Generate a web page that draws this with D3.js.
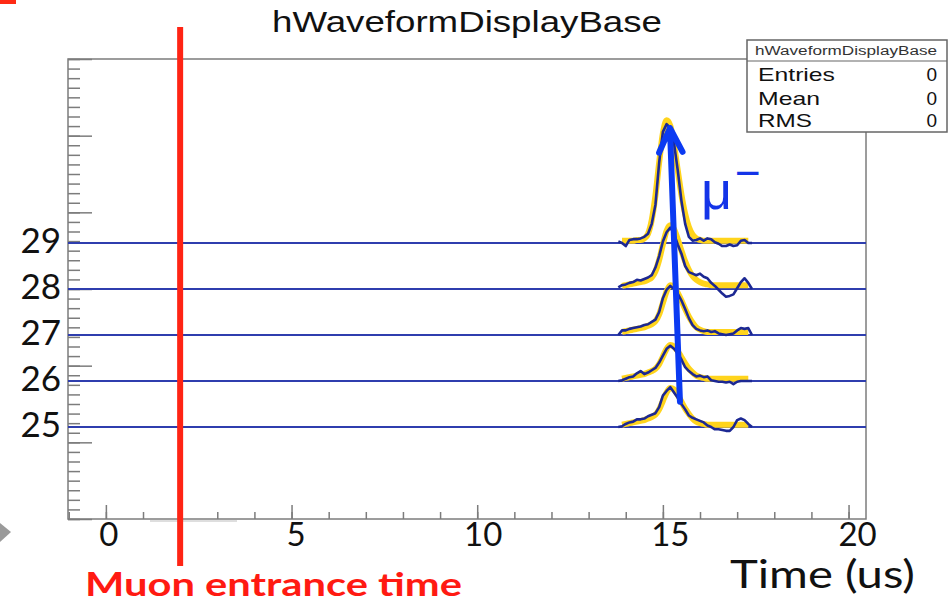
<!DOCTYPE html>
<html lang="en">
<head>
	<meta charset="UTF-8"/>
	<title>hWaveformDisplayBase</title>
	<style>
	body { margin: 0; background: white; }
	svg { display: block; }
	</style>
	<script src="https://d3js.org/d3.v7.min.js"></script>
</head>
<body>
	<div id="chart"></div>
	<script>

	// Channels shown and their baseline offsets (in axis units)
	var channels = [25, 26, 27, 28, 29];
	var baselines = [12, 18, 24, 30, 36];

	// Time of each waveform sample (us)
	var times = [13.8, 13.9, 14.0, 14.1, 14.2, 14.3, 14.4, 14.5, 14.6, 14.7,
				14.8, 14.9, 15.0, 15.1, 15.2, 15.3, 15.4, 15.5, 15.6, 15.7,
				15.8, 15.9, 16.0, 16.1, 16.2, 16.3, 16.4, 16.5, 16.6, 16.7,
				16.8, 16.9, 17.0, 17.1, 17.2, 17.3, 17.4];

	// Measured waveforms (height above baseline)
	var wave25 = [0.0, 0.1, 0.4, 0.6, 0.7, 1.0, 1.0, 1.1, 1.4, 1.6,
				1.8, 2.6, 4.1, 4.7, 5.2, 4.5, 3.8, 3.0, 2.3, 1.5,
				1.2, 1.0, 0.8, 0.6, 0.2, 0.0, -0.3, -0.3, -0.4, -0.5,
				-0.5, 0.0, 0.9, 1.1, 0.9, 0.4, 0.0];
	var wave26 = [0.0, 0.1, 0.3, 0.5, 0.6, 1.0, 1.3, 0.9, 1.1, 1.4,
				1.7, 2.4, 3.3, 4.2, 4.6, 4.2, 3.6, 2.8, 1.8, 1.3,
				0.9, 0.6, 0.7, 0.5, 0.6, 0.1, 0.0, -0.1, -0.1, -0.2,
				-0.1, -0.4, -0.1, 0.0, 0.0, 0.0, 0.0];
	var wave27 = [0.0, 0.6, 0.6, 0.8, 0.9, 1.0, 1.1, 1.3, 1.4, 1.7,
				2.0, 3.0, 4.8, 5.9, 6.4, 6.0, 5.4, 4.5, 3.4, 2.2,
				1.3, 0.8, 0.6, 0.5, 0.6, 0.4, 0.5, 0.2, 0.1, 0.0,
				0.1, 0.2, 0.6, 0.9, 0.8, 0.9, 0.0];
	var wave28 = [0.2, 0.5, 0.6, 0.8, 0.9, 1.2, 1.1, 1.3, 1.5, 1.8,
				2.8, 4.3, 6.2, 7.4, 8.0, 7.2, 5.8, 4.6, 3.0, 2.2,
				2.0, 1.8, 2.0, 1.6, 1.4, 0.8, 0.4, -0.1, -0.6, -1.0,
				-0.9, -0.7, 0.1, 0.9, 1.4, 0.8, 0.0];
	var wave29 = [0.2, 0.0, -0.4, 0.4, 0.5, 0.5, 0.6, 0.8, 1.2, 2.5,
				5.0, 10.5, 14.5, 15.5, 15.0, 13.0, 9.5, 5.5, 2.5, 0.8,
				0.3, 0.4, 0.6, 0.3, 0.6, 0.5, 0.1, -0.1, -0.4, -0.4,
				-0.2, -0.4, -0.3, 0.3, 0.4, 0.0, 0.0];

	// Fitted pulse shapes (yellow)
	var fit25 = [0.2, 0.3, 0.4, 0.5, 0.6, 0.7, 0.8, 0.9, 1.1, 1.3,
				1.6, 2.3, 3.4, 4.5, 5.1, 4.9, 4.2, 3.3, 2.4, 1.7,
				1.1, 0.7, 0.5, 0.4, 0.3, 0.3, 0.3, 0.3, 0.3, 0.3,
				0.3, 0.3, 0.3, 0.3, 0.3, 0.3, 0.3];
	var fit26 = [0.2, 0.3, 0.4, 0.5, 0.6, 0.7, 0.8, 0.9, 1.1, 1.3,
				1.6, 2.2, 3.2, 4.2, 4.7, 4.5, 3.9, 3.1, 2.3, 1.6,
				1.1, 0.7, 0.5, 0.4, 0.3, 0.3, 0.3, 0.3, 0.3, 0.3,
				0.3, 0.3, 0.3, 0.3, 0.3, 0.3, 0.3];
	var fit27 = [0.3, 0.4, 0.5, 0.6, 0.7, 0.8, 0.9, 1.0, 1.2, 1.4,
				1.8, 2.7, 4.2, 5.7, 6.5, 6.3, 5.5, 4.5, 3.4, 2.4,
				1.6, 1.0, 0.7, 0.5, 0.4, 0.4, 0.4, 0.4, 0.4, 0.4,
				0.4, 0.4, 0.4, 0.4, 0.4, 0.4, 0.4];
	var fit28 = [0.3, 0.4, 0.5, 0.6, 0.7, 0.8, 0.9, 1.0, 1.2, 1.5,
				2.3, 3.8, 5.8, 7.6, 8.3, 7.8, 6.5, 5.0, 3.6, 2.5,
				1.7, 1.2, 0.9, 0.7, 0.6, 0.5, 0.5, 0.5, 0.5, 0.5,
				0.5, 0.5, 0.5, 0.5, 0.5, 0.5, 0.5];
	var fit29 = [0.3, 0.3, 0.3, 0.3, 0.3, 0.4, 0.4, 0.6, 1.2, 3.0,
				6.2, 10.5, 14.3, 16.0, 15.3, 12.8, 9.5, 6.3, 3.8, 2.1,
				1.1, 0.6, 0.4, 0.3, 0.3, 0.3, 0.3, 0.3, 0.3, 0.3,
				0.3, 0.3, 0.3, 0.3, 0.3, 0.3, 0.3];

	var waves = [wave25, wave26, wave27, wave28, wave29];
	var fits = [fit25, fit26, fit27, fit28, fit29];

	// Axis ticks
	var xMajorTicks = [0, 5, 10, 15, 20];
	var xTickLabels = ["0", "5", "10", "15", "20"];

	// Stats box
	var statsTitle = "hWaveformDisplayBase";
	var statsNames = ["Entries", "Mean", "RMS"];
	var statsValues = [0, 0, 0];

	// Annotations
	var muonTime = 2;
	var arrowFrom = [15.46, 15.3];
	var arrowTo = [15.19, 51.0];

	// width and height
	var w = 951;
	var h = 603;
	var frame = {left: 68, right: 866, top: 59, bottom: 519};

	var svg = d3.select("#chart")
			.append("svg")
			.attr("width", w)
			.attr("height", h);

	var xScale = d3.scaleLinear()
					.domain([-1.02, 20.47])
					.range([frame.left, frame.right]);

	var yScale = d3.scaleLinear()
					.domain([0, 60])
					.range([frame.bottom, frame.top]);

	var axisColor = "#7c7c7c";

	// little slide leftovers
	svg.append("rect")
		.attr("x", 0).attr("y", 0)
		.attr("width", 16).attr("height", 4)
		.attr("fill", "#ff2a14");
	svg.append("path")
		.attr("d", "M0,523 L11,532 L0,542 Z")
		.attr("fill", "#9a9a9a");

	// Frame
	svg.append("rect")
		.attr("x", frame.left)
		.attr("y", frame.top)
		.attr("width", frame.right - frame.left)
		.attr("height", frame.bottom - frame.top)
		.attr("fill", "none")
		.attr("stroke", axisColor)
		.attr("stroke-width", 1.5);

	svg.append("line")
		.attr("x1", 150).attr("x2", 237)
		.attr("y1", 521).attr("y2", 521)
		.attr("stroke", "#bdbdbd")
		.attr("stroke-width", 1.2);

	// X axis ticks (pointing inwards)
	var xMinor = d3.range(-1, 21, 1);
	var xAxisMinor = d3.axisTop(xScale)
				.tickValues(xMinor)
				.tickSize(7)
				.tickFormat("");
	var xAxisMajor = d3.axisTop(xScale)
				.tickValues(xMajorTicks)
				.tickSize(14)
				.tickFormat("");

	[xAxisMinor, xAxisMajor].forEach(function(ax) {
		var g = svg.append("g")
			.attr("transform", "translate(0," + frame.bottom + ")")
			.call(ax);
		g.select(".domain").remove();
		g.selectAll("line")
			.attr("stroke", axisColor)
			.attr("stroke-width", 1.5);
	});

	// Y axis ticks (pointing inwards)
	var yAxisMinor = d3.axisRight(yScale)
				.tickValues(d3.range(0, 60.01, 1.25))
				.tickSize(12)
				.tickFormat("");
	var yAxisMajor = d3.axisRight(yScale)
				.tickValues(d3.range(0, 60.01, 10))
				.tickSize(24)
				.tickFormat("");

	[yAxisMinor, yAxisMajor].forEach(function(ax) {
		var g = svg.append("g")
			.attr("transform", "translate(" + frame.left + ",0)")
			.call(ax);
		g.select(".domain").remove();
		g.selectAll("line")
			.attr("stroke", axisColor)
			.attr("stroke-width", 1.5);
	});

	// Plot area
	var plot = svg.append("g");

	// Flat baselines for each channel
	plot.selectAll(".baseline")
		.data(baselines)
		.enter()
		.append("line")
		.attr("class", "baseline")
		.attr("x1", frame.left)
		.attr("x2", frame.right)
		.attr("y1", function(d) { return yScale(d); })
		.attr("y2", function(d) { return yScale(d); })
		.attr("stroke", "#2f3eae")
		.attr("stroke-width", 2);

	// Fit curves
	var fitLine = d3.line()
				.x(function(d) { return xScale(d.t); })
				.y(function(d) { return yScale(d.y); })
				.curve(d3.curveMonotoneX);

	plot.selectAll(".fit")
		.data(fits)
		.enter()
		.append("path")
		.attr("class", "fit")
		.attr("d", function(f, c) {
			var pts = f.map(function(v, i) {
				return {t: times[i], y: baselines[c] + v};
			});
			return fitLine(pts.slice(1, 36));
		})
		.attr("fill", "none")
		.attr("stroke", "#ffd41c")
		.attr("stroke-width", 6)
		.attr("stroke-linejoin", "round");

	// Waveforms
	var waveLine = d3.line()
				.x(function(d) { return xScale(d.t); })
				.y(function(d) { return yScale(d.y); })
				.curve(d3.curveLinear);

	plot.selectAll(".wave")
		.data(waves)
		.enter()
		.append("path")
		.attr("class", "wave")
		.attr("d", function(wv, c) {
			var pts = wv.map(function(v, i) {
				return {t: times[i], y: baselines[c] + v};
			});
			return waveLine(pts);
		})
		.attr("fill", "none")
		.attr("stroke", "#1c2893")
		.attr("stroke-width", 2.6)
		.attr("stroke-linejoin", "round");

	// Muon entrance line
	svg.append("line")
		.attr("x1", xScale(muonTime))
		.attr("x2", xScale(muonTime))
		.attr("y1", 27)
		.attr("y2", 566)
		.attr("stroke", "#ff2414")
		.attr("stroke-width", 6);

	// Arrow along the muon track
	var ax0 = xScale(arrowFrom[0]), ay0 = yScale(arrowFrom[1]);
	var ax1 = xScale(arrowTo[0]), ay1 = yScale(arrowTo[1]);
	var len = Math.sqrt((ax1 - ax0) * (ax1 - ax0) + (ay1 - ay0) * (ay1 - ay0));
	var ux = (ax0 - ax1) / len, uy = (ay0 - ay1) / len;
	var wing = 27, ang = 0.45;
	function rot(a) {
		return [ux * Math.cos(a) - uy * Math.sin(a), ux * Math.sin(a) + uy * Math.cos(a)];
	}
	var r1 = rot(ang), r2 = rot(-ang);

	svg.append("path")
		.attr("d", "M" + ax0 + "," + ay0 + " L" + ax1 + "," + ay1 +
			" M" + (ax1 + r1[0] * wing) + "," + (ay1 + r1[1] * wing) +
			" L" + ax1 + "," + ay1 +
			" L" + (ax1 + r2[0] * wing) + "," + (ay1 + r2[1] * wing))
		.attr("fill", "none")
		.attr("stroke", "#0b3af2")
		.attr("stroke-width", 6)
		.attr("stroke-linecap", "round")
		.attr("stroke-linejoin", "round");

	// mu minus label
	svg.append("text")
		.attr("x", 701)
		.attr("y", 209)
		.attr("font-family", "Liberation Sans, Arial, sans-serif")
		.attr("font-size", "54px")
		.attr("fill", "#1434e8")
		.text("μ");
	svg.append("text")
		.attr("x", 735)
		.attr("y", 188)
		.attr("font-family", "Liberation Sans, Arial, sans-serif")
		.attr("font-size", "44px")
		.attr("fill", "#1434e8")
		.text("−");

	// Title
	svg.append("text")
		.attr("x", 272)
		.attr("y", 32)
		.attr("font-family", "Liberation Sans, Arial, sans-serif")
		.attr("font-size", "30px")
		.attr("fill", "#111")
		.attr("textLength", 390)
		.attr("lengthAdjust", "spacingAndGlyphs")
		.text("hWaveformDisplayBase");

	// Stats box
	var box = svg.append("g");
	box.append("rect")
		.attr("x", 747).attr("y", 40)
		.attr("width", 200).attr("height", 92)
		.attr("fill", "white")
		.attr("stroke", "#666")
		.attr("stroke-width", 1.5);
	box.append("line")
		.attr("x1", 747).attr("x2", 947)
		.attr("y1", 61).attr("y2", 61)
		.attr("stroke", "#666")
		.attr("stroke-width", 1.2);
	box.append("text")
		.attr("x", 755)
		.attr("y", 55)
		.attr("font-family", "Liberation Sans, Arial, sans-serif")
		.attr("font-size", "12px")
		.attr("fill", "#333")
		.attr("textLength", 182)
		.attr("lengthAdjust", "spacingAndGlyphs")
		.text(statsTitle);

	var statWidths = [77, 62, 54];
	var statY = [81, 105, 127];
	box.selectAll(".sname")
		.data(statsNames)
		.enter()
		.append("text")
		.attr("class", "sname")
		.attr("x", 758)
		.attr("y", function(d, i) { return statY[i]; })
		.attr("font-family", "Liberation Sans, Arial, sans-serif")
		.attr("font-size", "19px")
		.attr("fill", "#111")
		.attr("textLength", function(d, i) { return statWidths[i]; })
		.attr("lengthAdjust", "spacingAndGlyphs")
		.text(function(d) { return d; });
	box.selectAll(".sval")
		.data(statsValues)
		.enter()
		.append("text")
		.attr("class", "sval")
		.attr("x", 937)
		.attr("y", function(d, i) { return statY[i]; })
		.attr("text-anchor", "end")
		.attr("font-family", "Liberation Sans, Arial, sans-serif")
		.attr("font-size", "19px")
		.attr("fill", "#111")
		.text(function(d) { return d; });

	// Channel labels
	svg.selectAll(".chlabel")
		.data(channels)
		.enter()
		.append("text")
		.attr("class", "chlabel")
		.attr("x", 61)
		.attr("y", function(d, i) { return yScale(baselines[i]) + 10; })
		.attr("text-anchor", "end")
		.attr("font-family", "Lato, sans-serif")
		.attr("font-size", "35px")
		.attr("fill", "#111")
		.text(function(d) { return d; });

	// Time tick labels
	svg.selectAll(".xlabel")
		.data(xMajorTicks)
		.enter()
		.append("text")
		.attr("class", "xlabel")
		.attr("x", function(d) { return xScale(d) + 3 + d * 0.3; })
		.attr("y", 546)
		.attr("text-anchor", "middle")
		.attr("font-family", "Lato, sans-serif")
		.attr("font-size", "33px")
		.attr("fill", "#111")
		.text(function(d, i) { return xTickLabels[i]; });

	// Axis title
	svg.append("text")
		.attr("x", 730)
		.attr("y", 588)
		.attr("font-family", "Lato, sans-serif")
		.attr("font-size", "38px")
		.attr("fill", "#111")
		.attr("textLength", 185)
		.attr("lengthAdjust", "spacingAndGlyphs")
		.text("Time (us)");

	// Muon entrance label
	svg.append("text")
		.attr("x", 85)
		.attr("y", 596)
		.attr("font-family", "Lato, sans-serif")
		.attr("font-weight", "bold")
		.attr("font-size", "33px")
		.attr("fill", "#ff1a12")
		.attr("textLength", 377)
		.attr("lengthAdjust", "spacingAndGlyphs")
		.text("Muon entrance time");

	</script>
</body>
</html>
